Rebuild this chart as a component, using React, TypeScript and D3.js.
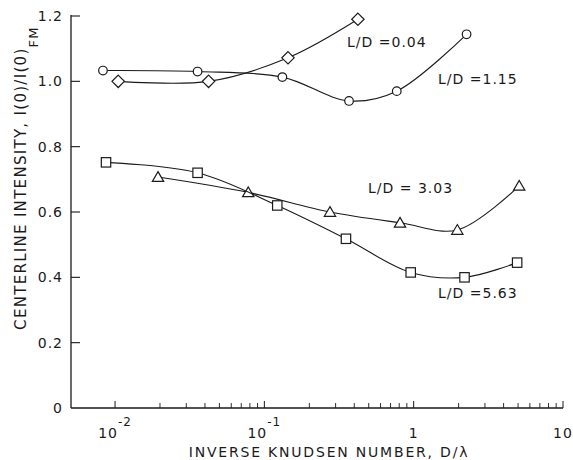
import React from "react";
import * as d3 from "d3";

// Centerline intensity vs inverse Knudsen number for four channel lengths
const circleX = [0.0083, 0.0357, 0.132, 0.369, 0.77, 2.26];
const circleY = [1.033, 1.03, 1.013, 0.94, 0.97, 1.144];

const diamondX = [0.0105, 0.0423, 0.144, 0.423];
const diamondY = [1.0, 1.0, 1.072, 1.19];

const triangleX = [0.0194, 0.078, 0.275, 0.81, 1.96, 5.09];
const triangleY = [0.707, 0.66, 0.6, 0.567, 0.545, 0.68];

const squareX = [0.0087, 0.0357, 0.122, 0.352, 0.955, 2.19, 4.93];
const squareY = [0.752, 0.72, 0.62, 0.518, 0.415, 0.4, 0.445];

const seriesLabels = ["L/D =0.04", "L/D =1.15", "L/D = 3.03", "L/D =5.63"];
const yTicks = [0, 0.2, 0.4, 0.6, 0.8, 1.0, 1.2];
const yTickLabels = ["0", "0.2", "0.4", "0.6", "0.8", "1.0", "1.2"];
const xMajor = [0.01, 0.1, 1, 10];
const xMajorBase = ["10", "10", "1", "10"];
const xMajorExp = ["-2", "-1", "", ""];

const W = 573;
const H = 460;
const font = "'DejaVu Sans', 'Liberation Sans', sans-serif";
const ink = "#1a1a1a";

const x = d3.scaleLog().domain([Math.pow(10, -2.295), 10]).range([71, 563]);
const y = d3.scaleLinear().domain([0, 1.2]).range([408, 16]);

const line = d3
  .line<[number, number]>()
  .x((d) => x(d[0]))
  .y((d) => y(d[1]))
  .curve(d3.curveCatmullRom.alpha(0.5));

const zip = (xs: number[], ys: number[]): [number, number][] =>
  xs.map((v, i) => [v, ys[i]]);

const minorTicks: number[] = [];
for (const dec of [0.01, 0.1, 1]) {
  for (let k = 2; k <= 9; k++) minorTicks.push(dec * k);
}

type Shape = "circle" | "diamond" | "square" | "triangle";

function Marker({ cx, cy, shape }: { cx: number; cy: number; shape: Shape }) {
  const common = { fill: "#fff", stroke: ink, strokeWidth: 1.2 };
  if (shape === "circle") return <circle cx={cx} cy={cy} r={4.3} {...common} />;
  if (shape === "square")
    return <rect x={cx - 4.7} y={cy - 4.7} width={9.4} height={9.4} {...common} />;
  if (shape === "diamond") {
    const r = 6.2;
    return (
      <path
        d={`M${cx},${cy - r}L${cx + r},${cy}L${cx},${cy + r}L${cx - r},${cy}Z`}
        {...common}
      />
    );
  }
  const s = 5.4;
  return (
    <path
      d={`M${cx},${cy - s}L${cx + s * 1.05},${cy + s * 0.8}L${cx - s * 1.05},${cy + s * 0.8}Z`}
      {...common}
    />
  );
}

function Series({ xs, ys, shape }: { xs: number[]; ys: number[]; shape: Shape }) {
  const pts = zip(xs, ys);
  return (
    <g>
      <path d={line(pts) ?? ""} fill="none" stroke={ink} strokeWidth={1.1} />
      {pts.map((p, i) => (
        <Marker key={i} cx={x(p[0])} cy={y(p[1])} shape={shape} />
      ))}
    </g>
  );
}

export default function App() {
  return (
    <svg
      width={W}
      height={H}
      style={{ position: "absolute", left: 0, top: 0, background: "#fff" }}
      fontFamily={font}
    >
      {/* axes */}
      <line x1={71} x2={71} y1={15} y2={408} stroke={ink} strokeWidth={1.3} />
      <line x1={71} x2={563} y1={408} y2={408} stroke={ink} strokeWidth={1.3} />

      {yTicks.map((t, i) => (
        <g key={t}>
          {i > 0 && (
            <line x1={71} x2={80} y1={y(t)} y2={y(t)} stroke={ink} strokeWidth={1.1} />
          )}
          <text
            x={63}
            y={y(t)}
            dy="0.36em"
            textAnchor="end"
            fontSize={14}
            fill={ink}
            letterSpacing={1}
          >
            {yTickLabels[i]}
          </text>
        </g>
      ))}

      {minorTicks.map((t) => (
        <line key={t} x1={x(t)} x2={x(t)} y1={408} y2={403} stroke={ink} strokeWidth={0.9} />
      ))}
      {xMajor.map((t, i) => (
        <g key={t}>
          <line x1={x(t)} x2={x(t)} y1={408} y2={401} stroke={ink} strokeWidth={1} />
          <text x={x(t)} y={438} textAnchor="middle" fontSize={14} fill={ink} letterSpacing={1}>
            {xMajorBase[i]}
            {xMajorExp[i] && (
              <tspan dy={-12} fontSize={12}>
                {xMajorExp[i]}
              </tspan>
            )}
          </text>
        </g>
      ))}

      {/* axis titles */}
      <text
        x={329}
        y={457}
        textAnchor="middle"
        fontSize={14}
        fill={ink}
        letterSpacing={1.8}
      >
        INVERSE KNUDSEN NUMBER, D/λ
      </text>
      <text
        transform="translate(26,178) rotate(-90)"
        textAnchor="middle"
        fontSize={15}
        fill={ink}
        letterSpacing={1.3}
      >
        CENTERLINE INTENSITY, I(0)/I(0)
        <tspan dy={12} fontSize={13}>
          FM
        </tspan>
      </text>

      {/* data */}
      <Series xs={diamondX} ys={diamondY} shape="diamond" />
      <Series xs={circleX} ys={circleY} shape="circle" />
      <Series xs={triangleX} ys={triangleY} shape="triangle" />
      <Series xs={squareX} ys={squareY} shape="square" />

      {/* series labels */}
      <text x={347} y={47} fontSize={14} fill={ink} letterSpacing={1}>
        {seriesLabels[0]}
      </text>
      <text x={438} y={84} fontSize={14} fill={ink} letterSpacing={1}>
        {seriesLabels[1]}
      </text>
      <text x={368} y={193} fontSize={14} fill={ink} letterSpacing={1}>
        {seriesLabels[2]}
      </text>
      <text x={438} y={298} fontSize={14} fill={ink} letterSpacing={1}>
        {seriesLabels[3]}
      </text>
    </svg>
  );
}
